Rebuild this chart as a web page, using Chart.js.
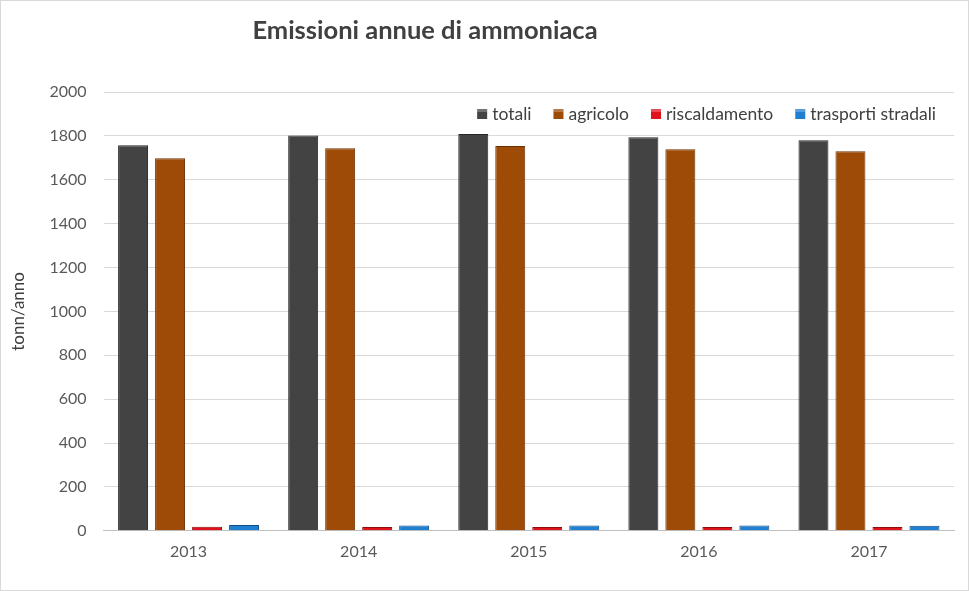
<!DOCTYPE html>
<html>
<head>
<meta charset="utf-8">
<script src="https://cdn.jsdelivr.net/npm/chart.js@4"></script>
<style>
  html, body { margin: 0; padding: 0; background: #fff; }
  #wrap { width: 967px; height: 589px; border: 1px solid #d9d9d9; position: relative; }
</style>
</head>
<body>
<div id="wrap"><canvas id="chart" width="967" height="589"></canvas></div>
<script>
// Data
const years = ['2013', '2014', '2015', '2016', '2017'];
const totali = [1757, 1802, 1808, 1794, 1780];
const agricolo = [1698, 1744, 1754, 1739, 1730];
const riscaldamento = [18, 17, 17, 17, 17];
const trasporti = [27, 24, 24, 24, 23];
const yTicks = [0, 200, 400, 600, 800, 1000, 1200, 1400, 1600, 1800, 2000];

const FONT = 'Lato, "Open Sans", sans-serif';
const solid = ['#434343', '#9e4b08', '#e0121a', '#1f7fd0'];

// Title drawn slightly left of centre, like the original
const titlePlugin = {
    id: 'titlePlugin',
    afterDraw(chart) {
        const ctx = chart.ctx;
        ctx.save();
        ctx.font = 'bold 25.5px ' + FONT;
        ctx.fillStyle = '#404040';
        ctx.textAlign = 'center';
        ctx.textBaseline = 'middle';
        ctx.fillText('Emissioni annue di ammoniaca', 424, 30);
        ctx.restore();
    }
};

// Legend sits inside the plot, top right
const legendPlugin = {
    id: 'legendPlugin',
    afterDraw(chart) {
        const ctx = chart.ctx;
        ctx.save();
        ctx.font = '17.5px ' + FONT;
        ctx.textBaseline = 'middle';
        const items = chart.data.datasets.map(ds => ds.label);
        const gap = 22, box = 10, boxGap = 5;
        let total = 0;
        items.forEach((t, i) => {
            total += box + boxGap + ctx.measureText(t).width + (i < items.length - 1 ? gap : 0);
        });
        let x = 935 - total;
        const y = 113;
        items.forEach((t, i) => {
            ctx.fillStyle = solid[i];
            ctx.fillRect(x, y - 5, box, box);
            ctx.fillStyle = 'rgba(255,255,255,0.25)';
            ctx.fillRect(x, y - 5, box, 3);
            x += box + boxGap;
            ctx.fillStyle = '#404040';
            ctx.fillText(t, x, y);
            x += ctx.measureText(t).width + gap;
        });
        ctx.restore();
    }
};

function bevel(base, light, dark) {
    return function(context) {
        const el = context.element;
        const chart = context.chart;
        if (!el || el.x === undefined || !el.width) return base;
        const x0 = el.x - el.width / 2, x1 = el.x + el.width / 2;
        const g = chart.ctx.createLinearGradient(x0, 0, x1, 0);
        g.addColorStop(0, light);
        g.addColorStop(0.12, base);
        g.addColorStop(0.88, base);
        g.addColorStop(1, dark);
        return g;
    };
}

new Chart(document.getElementById('chart'), {
    type: 'bar',
    data: {
        labels: years,
        datasets: [
            { label: 'totali', data: totali, backgroundColor: bevel('#434343', '#5a5a5a', '#2a2a2a'), borderColor: '#262626', borderWidth: 1 },
            { label: 'agricolo', data: agricolo, backgroundColor: bevel('#9e4b08', '#c06a1e', '#7a3804'), borderColor: '#6a3003', borderWidth: 1 },
            { label: 'riscaldamento', data: riscaldamento, backgroundColor: bevel('#e0121a', '#f04048', '#a80a10'), borderColor: '#900a0e', borderWidth: 1 },
            { label: 'trasporti stradali', data: trasporti, backgroundColor: bevel('#1f7fd0', '#4aa6ea', '#135a9e'), borderColor: '#104d88', borderWidth: 1 }
        ]
    },
    options: {
        responsive: false,
        animation: false,
        devicePixelRatio: 1,
        layout: { padding: { top: 91, right: 14, bottom: 18, left: 4 } },
        datasets: { bar: { categoryPercentage: 0.87, barPercentage: 0.81 } },
        plugins: {
            title: { display: false },
            tooltip: { enabled: false },
            legend: { display: false }
        },
        scales: {
            x: {
                grid: { display: false, drawTicks: false },
                border: { color: '#bfbfbf' },
                ticks: { color: '#595959', font: { family: FONT, size: 16 }, padding: 11 }
            },
            y: {
                min: 0,
                max: 2000,
                afterBuildTicks(axis) { axis.ticks = yTicks.map(v => ({ value: v })); },
                grid: { color: '#d9d9d9', drawTicks: false },
                border: { display: false },
                ticks: { color: '#595959', font: { family: FONT, size: 16 }, padding: 17, callback: v => String(v) },
                title: { display: true, text: 'tonn/anno', color: '#404040', font: { family: FONT, size: 17 }, padding: { top: 3, bottom: 4 } }
            }
        }
    },
    plugins: [titlePlugin, legendPlugin]
});
</script>
</body>
</html>
